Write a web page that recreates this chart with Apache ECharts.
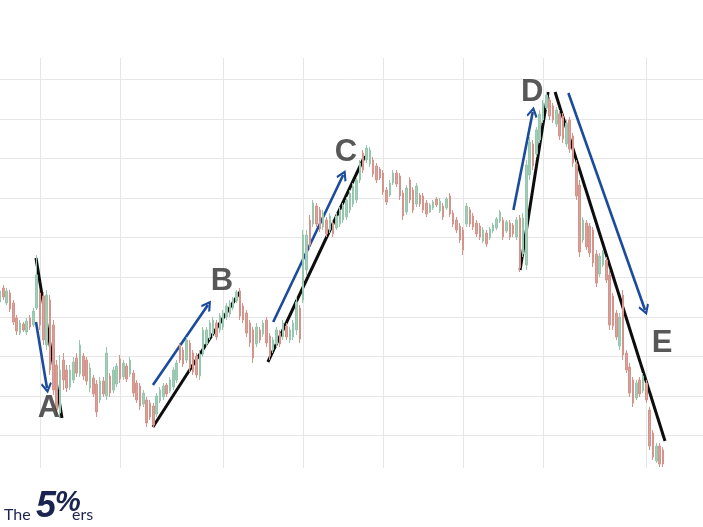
<!DOCTYPE html>
<html><head><meta charset="utf-8">
<script src="https://cdn.jsdelivr.net/npm/echarts@6/dist/echarts.min.js"></script>
<style>html,body{margin:0;padding:0;background:#fff}#c{width:703px;height:527px}</style>
</head><body><div id="c"></div>
<script>
// bar index labels (200 bars + empty right margin)
const categories = Array.from({length: 212}, (_, i) => 'B' + i);
// bars where a new session starts (vertical grid lines)
const sessionStarts = [12, 36, 67, 91, 115, 139, 163, 194];
// horizontal grid levels
const gridLevels = {min: 40, max: 400, step: 40};

const opens = [
178,192,177,187,177,162,147,156,148,162,
155,172,187,184,135,180,155,115,67,120,
110,93,100,122,106,124,120,92,102,96,
80,99,84,104,90,96,121,103,114,106,
107,97,94,76,80,77,74,66,79,83,
95,89,93,100,135,130,120,137,127,124,
104,126,136,143,146,157,150,153,163,166,
172,179,189,174,167,157,150,136,150,146,
160,144,130,136,147,143,154,140,143,150,
172,180,210,260,256,274,270,253,260,250,
257,252,256,260,263,270,276,280,300,327,
320,316,320,314,311,307,290,285,297,307,
304,287,268,300,290,276,285,284,277,268,
272,281,269,274,272,284,267,260,254,250,
256,270,264,257,254,239,247,242,249,252,
259,260,249,257,255,243,262,226,215,305,
336,326,340,360,372,380,374,356,366,364,
336,360,344,316,295,240,257,254,250,226,
206,215,220,205,184,167,134,185,127,113,
100,82,100,89,97,70,47,19,34,30];
const closes = [
189,183,189,171,158,149,157,150,159,153,
169,205,155,140,185,110,90,70,110,100,
92,110,118,107,135,104,99,112,86,68,
99,86,127,87,110,114,101,117,101,120,
87,80,74,87,57,63,55,84,90,94,
86,100,110,117,120,116,140,112,108,105,
126,150,150,157,160,143,164,167,174,177,
181,188,164,160,147,137,122,153,140,157,
137,124,140,150,136,157,143,150,157,178,
141,245,245,235,277,256,251,267,246,264,
246,264,270,274,280,287,294,300,317,310,
332,330,306,300,302,288,278,297,307,296,
284,264,292,280,270,294,276,270,266,275,
278,275,279,263,281,266,256,250,240,230,
274,256,253,246,243,250,236,251,255,261,
268,243,258,243,246,260,212,262,315,338,
314,350,366,377,385,364,360,370,344,341,
357,331,317,284,228,260,233,227,217,197,
224,228,200,155,154,143,163,125,110,87,
77,97,86,104,80,34,23,34,16,16];
const lows = [
175,180,175,168,155,145,145,148,145,150,
153,170,150,135,130,105,85,65,62,90,
88,90,97,103,103,100,95,88,83,63,
77,83,80,83,87,93,97,100,98,103,
83,77,70,73,53,60,52,63,77,80,
83,87,90,97,117,113,117,108,105,102,
100,123,133,140,143,140,147,150,160,163,
170,177,160,157,143,133,117,133,137,143,
133,120,127,133,133,140,140,137,140,145,
137,177,205,230,253,253,248,250,243,247,
243,250,253,257,260,267,273,277,297,307,
317,313,303,297,300,285,275,283,295,293,
280,260,265,277,267,273,273,267,263,267,
270,273,267,260,270,263,253,247,237,225,
253,253,250,243,240,237,233,240,247,250,
257,240,247,240,243,240,208,223,210,300,
310,323,337,357,370,360,357,353,340,337,
333,327,313,280,223,237,230,223,213,193,
203,213,197,150,150,140,130,120,107,83,
73,80,83,87,77,30,20,17,13,13];
const highs = [
192,195,192,190,180,165,160,158,162,165,
172,225,190,188,190,185,160,120,125,127,
115,115,123,127,140,127,123,117,105,100,
103,103,133,107,113,117,125,120,117,123,
110,100,97,90,83,80,77,87,93,97,
97,103,113,120,137,133,143,140,130,127,
130,153,153,160,163,160,167,170,177,180,
183,190,192,177,170,160,153,157,153,160,
163,147,143,153,150,160,157,153,160,183,
175,250,250,265,280,277,273,270,263,267,
260,267,273,277,283,290,297,303,320,330,
335,333,323,317,313,310,293,300,310,310,
307,290,295,303,293,297,287,287,280,277,
280,283,282,277,283,287,270,263,257,253,
277,273,267,260,257,253,250,253,257,263,
270,263,260,260,257,263,265,267,320,343,
340,353,370,380,388,383,377,373,370,367,
360,363,347,320,300,263,260,257,253,230,
227,230,223,210,187,170,167,190,130,117,
103,100,103,107,100,73,50,37,37,33];

// annotations in (bar index, price) units
const trendLines = [
  [[10.8, 222], [18.6, 62]],
  [[45.9, 53], [72.0, 188]],
  [[80.4, 118], [109.5, 324]],
  [[156.1, 210], [164.5, 388]],
  [[166.6, 388], [199.6, 39]]
];
const arrows = [
  [[10.8, 158], [14.1, 92]],
  [[45.9, 95], [62.4, 175]],
  [[82.0, 158], [103.0, 305]],
  [[154.1, 270], [159.9, 368]],
  [[170.6, 387], [193.6, 170]]
];
const waveLabels = ['A', 'B', 'C', 'D', 'E'];
const labelPos = [[14.7, 72], [66.6, 199], [103.8, 328], [159.7, 388], [198.7, 137]];

const candles = opens.map((o, i) => [o, closes[i], lows[i], highs[i]]);
const chevron = 'path://M10,0 L20,12 L17.4,14.2 L10,5.4 L2.6,14.2 L0,12 Z';

const chart = echarts.init(document.getElementById('c'), null, {renderer: 'canvas'});
chart.setOption({
  animation: false,
  backgroundColor: '#ffffff',
  grid: [
    {left: 0, right: 0, top: 58, bottom: 59},
    {left: 0, right: 0, top: 79.3, height: 356.4}
  ],
  xAxis: [
    {gridIndex: 0, type: 'category', data: categories, boundaryGap: false,
     axisLine: {show: false}, axisTick: {show: false}, axisLabel: {show: false},
     splitLine: {show: true, interval: (idx) => sessionStarts.includes(idx),
                 lineStyle: {color: '#e6e6e6', width: 1}}},
    {gridIndex: 0, type: 'value', min: 0, max: categories.length - 1, show: false},
    {gridIndex: 1, type: 'value', min: 0, max: 1, show: false}
  ],
  yAxis: [
    {gridIndex: 0, type: 'value', min: 12, max: 422, show: false, splitLine: {show: false}},
    {gridIndex: 1, type: 'value', min: gridLevels.min, max: gridLevels.max, interval: gridLevels.step,
     axisLine: {show: false}, axisTick: {show: false}, axisLabel: {show: false},
     splitLine: {show: true, lineStyle: {color: '#e6e6e6', width: 1}}}
  ],
  series: [
    {type: 'candlestick', xAxisIndex: 0, yAxisIndex: 0, data: candles, barWidth: 2,
     itemStyle: {color: '#a3cdb7', color0: '#d9a19a', borderColor: '#96c6ad', borderColor0: '#d4938b', borderWidth: 1}},
    {type: 'lines', coordinateSystem: 'cartesian2d', xAxisIndex: 1, yAxisIndex: 0,
     data: trendLines.map(c => ({coords: c})), symbol: 'none',
     lineStyle: {color: '#0d0d0d', width: 3, opacity: 1}},
    {type: 'lines', coordinateSystem: 'cartesian2d', xAxisIndex: 1, yAxisIndex: 0,
     data: arrows.map(c => ({coords: c})), symbol: ['none', chevron], symbolSize: [16, 11],
     lineStyle: {color: '#1b4b9b', width: 2.6, opacity: 1}},
    {type: 'scatter', xAxisIndex: 1, yAxisIndex: 0, symbolSize: 0,
     data: labelPos.map((p, i) => ({value: p, name: waveLabels[i]})),
     label: {show: true, position: 'inside', formatter: '{b}', fontSize: 31, fontWeight: 'bold',
             fontFamily: 'Liberation Sans', color: '#2e2e2e'}}
  ],
  graphic: [
    {type: 'text', x: 4, y: 507, style: {text: 'The', fontSize: 16, fontFamily: 'Lato', fill: '#1b2350'}},
    {type: 'text', x: 36, y: 489, style: {text: '5', fontSize: 36, fontFamily: 'Liberation Sans', fontWeight: 'bold', fontStyle: 'italic', fill: '#1b2350'}},
    {type: 'text', x: 55, y: 488, style: {text: '%', fontSize: 29, fontFamily: 'Liberation Sans', fontWeight: 'bold', fontStyle: 'italic', fill: '#1b2350'}},
    {type: 'text', x: 72, y: 507, style: {text: 'ers', fontSize: 16, fontFamily: 'Lato', fill: '#1b2350'}}
  ]
});
</script></body></html>
